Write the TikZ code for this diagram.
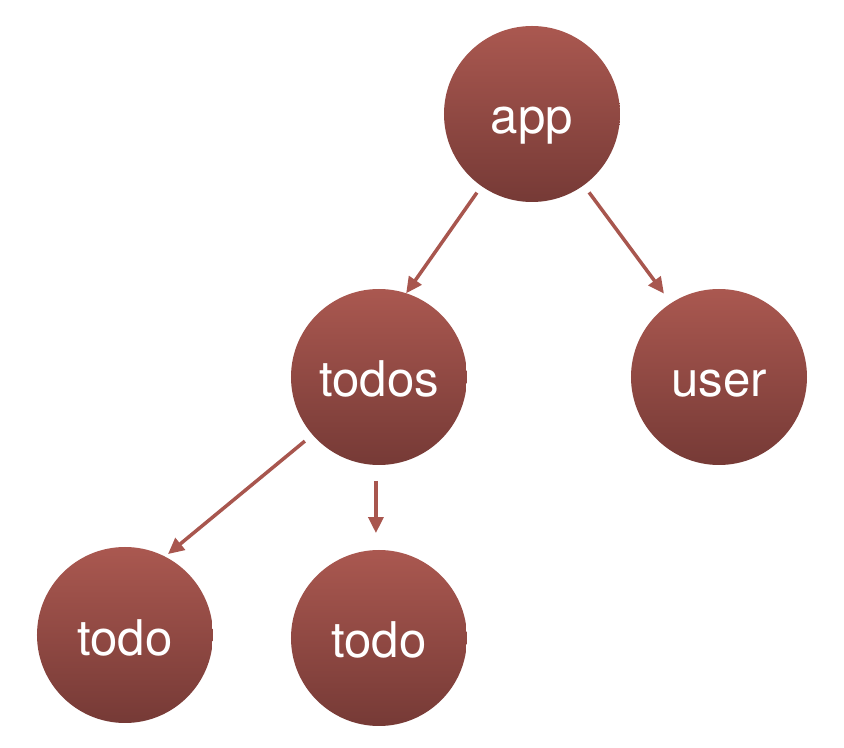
\documentclass[tikz,border=0pt]{standalone}
\usepackage{fontspec}
\setmainfont{TeX Gyre Heros}
\usepackage{tikz}
\usetikzlibrary{arrows.meta}
\usetikzlibrary{positioning}

\definecolor{nodetop}{RGB}{170,88,80}
\definecolor{nodebot}{RGB}{118,58,54}
\definecolor{edgecol}{RGB}{168,86,78}

\begin{document}
\begin{tikzpicture}[>={Triangle[length=0.32cm,width=0.3cm]},on grid,
                        line width=0.07cm,
                        main node/.style={circle,minimum size=3.52cm,inner sep=0pt,outer sep=0pt,
                          top color=nodetop,bottom color=nodebot,draw=none,text=white,
                          text height=0.8cm,text depth=0pt,
                          font=\fontsize{28}{33}\selectfont}]

      \useasboundingbox (-10.64,2.28) rectangle (6.24,-12.68);

      \node[main node] (1) {app};
      \node[main node] (2) [below left=5.26cm and 3.06cm of 1] {todos};
      \node[main node] (3) [right=6.8cm of 2] {user};
      \node[main node] (4) [below left=5.16cm and 5.08cm of 2] {todo};
      \node[main node] (5) [below=5.22cm of 2] {todo};

      \path[color=edgecol,->]
        (1.235) edge[shorten <=0.16cm] (2.72)
        (1.306) edge[shorten <=0.18cm,shorten >=0.24cm] (3.123)
        (2.221) edge[shorten <=0.2cm,shorten >=0.08cm] (4.63)
        (2.268) edge[shorten <=0.32cm,shorten >=0.34cm] (5.92);
\end{tikzpicture}
\end{document}
